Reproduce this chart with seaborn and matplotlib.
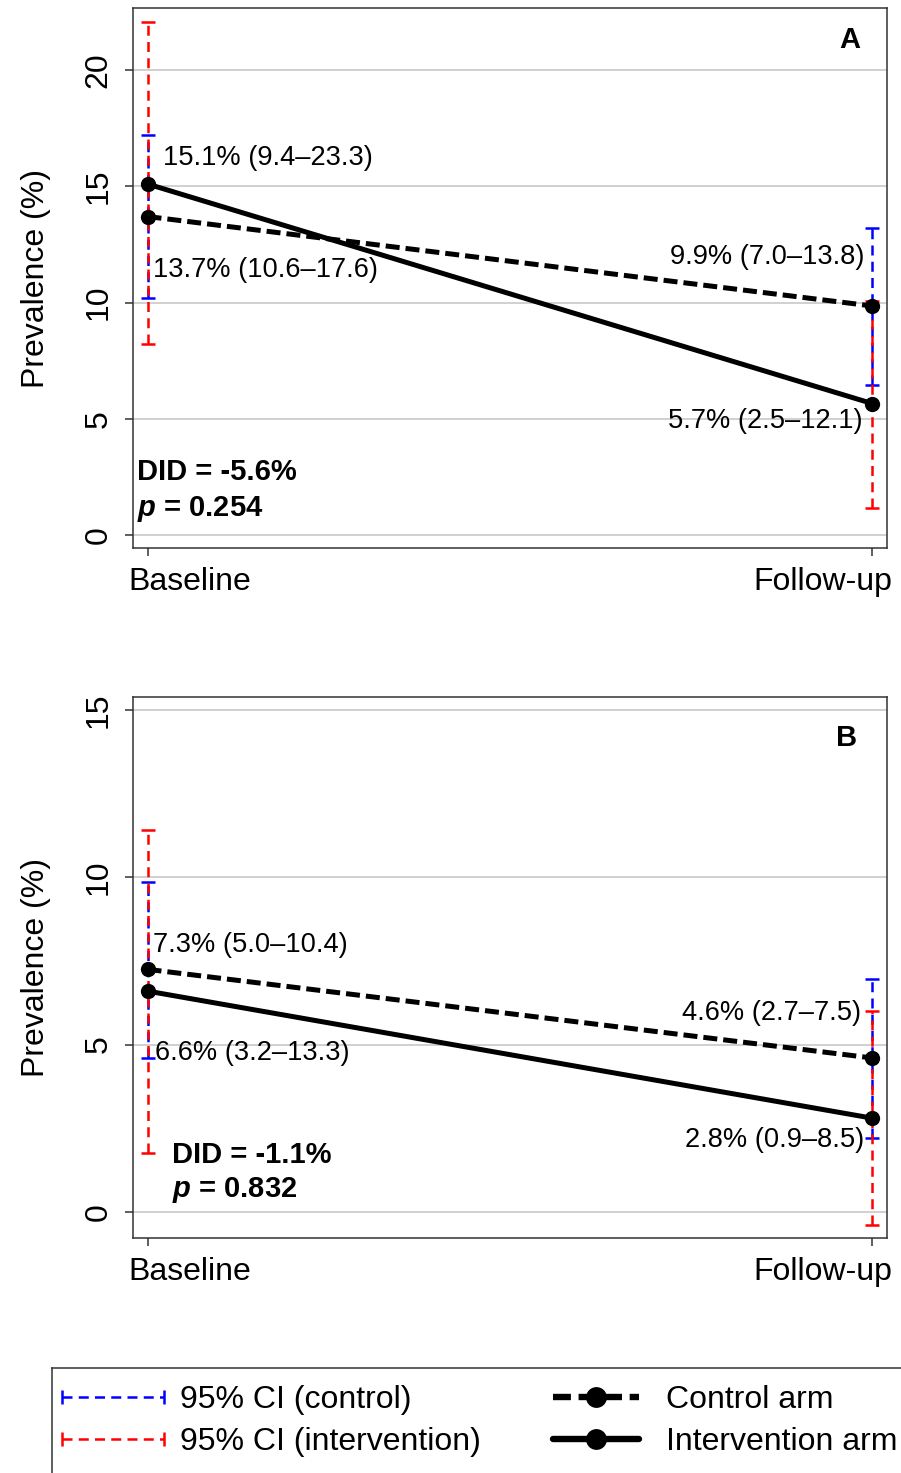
import numpy as np
import pandas as pd
import matplotlib
matplotlib.use("Agg")
import matplotlib.pyplot as plt
import matplotlib.transforms as mtransforms
import seaborn as sns
from matplotlib.lines import Line2D
from matplotlib.legend_handler import HandlerLine2D

# Data
times = ["Baseline", "Follow-up"]

# Panel A
a_control = [13.7, 9.85]
a_interv = [15.1, 5.65]
a_ci_control_lo = [10.2, 6.45]
a_ci_control_hi = [17.2, 13.2]
a_ci_interv_lo = [8.2, 1.15]
a_ci_interv_hi = [22.05, 10.05]
a_text_control = ["13.7% (10.6–17.6)", "9.9% (7.0–13.8)"]
a_text_interv = ["15.1% (9.4–23.3)", "5.7% (2.5–12.1)"]
a_did = "-5.6%"
a_p = "0.254"

# Panel B
b_control = [7.25, 4.6]
b_interv = [6.6, 2.8]
b_ci_control_lo = [4.6, 2.2]
b_ci_control_hi = [9.86, 6.95]
b_ci_interv_lo = [1.75, -0.4]
b_ci_interv_hi = [11.4, 6.0]
b_text_control = ["7.3% (5.0–10.4)", "4.6% (2.7–7.5)"]
b_text_interv = ["6.6% (3.2–13.3)", "2.8% (0.9–8.5)"]
b_did = "-1.1%"
b_p = "0.832"

sns.set_theme(style="white")
plt.rcParams["font.family"] = ["Liberation Sans", "DejaVu Sans"]
plt.rcParams["mathtext.fontset"] = "custom"
plt.rcParams["mathtext.bfit"] = "Liberation Sans:italic:bold"
plt.rcParams["mathtext.rm"] = "Liberation Sans:bold"
for k in ["text.color", "axes.labelcolor", "xtick.labelcolor", "ytick.labelcolor"]:
    plt.rcParams[k] = "black"

LW = 3.6
MS = 11
CTRL_LS = (0, (2.8, 1.2))
CI_LS = (0, (4, 2.5))
FS = 19.6


def draw_panel(ax, control, interv, c_lo, c_hi, i_lo, i_hi, t_ctrl, t_int,
               did, p, letter, ylim, yticks, lay):
    x = np.arange(len(times))
    df = pd.DataFrame({
        "t": np.concatenate([x, x]),
        "prev": control + interv,
        "arm": ["Control"] * len(x) + ["Intervention"] * len(x),
    })

    ax.grid(axis="y", color="#c8c8c8", lw=1.2)
    ax.set_axisbelow(True)

    # confidence intervals, blue first so red sits on top
    for lo, hi, mid, col in [(c_lo, c_hi, control, "blue"), (i_lo, i_hi, interv, "red")]:
        mid = np.array(mid)
        err = [mid - np.array(lo), np.array(hi) - mid]
        eb = ax.errorbar(x, mid, yerr=err, fmt="none", ecolor=col, elinewidth=1.8,
                         capsize=5, capthick=1.8, zorder=3)
        for lc in eb[2]:
            lc.set_linestyle(CI_LS)

    sns.lineplot(data=df[df.arm == "Control"], x="t", y="prev", ax=ax, color="black",
                 lw=LW, ls=CTRL_LS, marker="o", markersize=MS, markeredgewidth=0,
                 errorbar=None, zorder=4)
    sns.lineplot(data=df[df.arm == "Intervention"], x="t", y="prev", ax=ax, color="black",
                 lw=LW, marker="o", markersize=MS, markeredgewidth=0,
                 errorbar=None, zorder=4)

    # value labels
    for (xx, yy, ha), s in zip(lay["ctrl"], t_ctrl):
        ax.text(xx, yy, s, ha=ha, va="center", fontsize=FS, color="black", zorder=5)
    for (xx, yy, ha), s in zip(lay["int"], t_int):
        ax.text(xx, yy, s, ha=ha, va="center", fontsize=FS, color="black", zorder=5)

    dx, dy1, dy2 = lay["did"]
    ax.text(dx, dy1, "DID = " + did, ha="left", va="center", fontsize=21, fontweight="bold")
    ax.text(dx, dy2, r"$\mathbfit{p}$ = " + p, ha="left", va="center", fontsize=21,
            fontweight="bold")

    ax.text(lay["letter"][0], lay["letter"][1], letter, transform=ax.transAxes,
            ha="center", va="center", fontsize=21, fontweight="bold")

    ax.set_xlim(-0.02, 1.02)
    ax.set_ylim(*ylim)
    ax.set_yticks(yticks)
    ax.set_xticks(x, times)
    ax.set_xlabel("")
    ax.set_ylabel("Prevalence (%)", fontsize=23)
    ax.yaxis.set_label_coords(-0.109, 0.5)

    for sp in ax.spines.values():
        sp.set_color("#333333")
        sp.set_linewidth(1.1)
    ax.tick_params(axis="both", direction="out", length=6, width=1.1, color="#333333",
                   labelsize=23, pad=8, bottom=True, left=True)
    ax.tick_params(axis="y", labelrotation=90)
    for lab in ax.get_yticklabels():
        lab.set_va("center")

    fig = ax.figure
    for lab, ha, off in zip(ax.get_xticklabels(), ["left", "right"], [-19, 20]):
        lab.set_ha(ha)
        lab.set_transform(lab.get_transform() +
                          mtransforms.ScaledTranslation(off / 100, 0, fig.dpi_scale_trans))


fig = plt.figure(figsize=(9.01, 14.73), dpi=100)
W, H = 901, 1473
ax_a = fig.add_axes([133 / W, 1 - 548 / H, 754 / W, 540 / H])
ax_b = fig.add_axes([133 / W, 1 - 1238 / H, 754 / W, 541 / H])

lay_a = {
    "ctrl": [(0.007, 11.4, "left"), (0.989, 11.95, "right")],
    "int": [(0.022, 16.2, "left"), (0.986, 4.9, "right")],
    "did": (-0.014, 2.7, 1.12),
    "letter": (0.951, 0.941),
}
lay_b = {
    "ctrl": [(0.008, 7.98, "left"), (0.985, 5.95, "right")],
    "int": [(0.011, 4.75, "left"), (0.989, 2.15, "right")],
    "did": (0.034, 1.7, 0.66),
    "letter": (0.947, 0.924),
}

draw_panel(ax_a, a_control, a_interv, a_ci_control_lo, a_ci_control_hi,
           a_ci_interv_lo, a_ci_interv_hi, a_text_control, a_text_interv,
           a_did, a_p, "A", (-0.56, 22.67), [0, 5, 10, 15, 20], lay_a)
draw_panel(ax_b, b_control, b_interv, b_ci_control_lo, b_ci_control_hi,
           b_ci_interv_lo, b_ci_interv_hi, b_text_control, b_text_interv,
           b_did, b_p, "B", (-0.78, 15.39), [0, 5, 10, 15], lay_b)

# legend box, running off the right and bottom edges
ax_leg = fig.add_axes([52 / W, -0.05, 1.0, (H - 1368) / H + 0.05])
ax_leg.set_xticks([])
ax_leg.set_yticks([])
for sp in ax_leg.spines.values():
    sp.set_color("#333333")
    sp.set_linewidth(1.1)

ci_handles = [
    Line2D([], [], color="blue", lw=1.8, ls=CI_LS, marker="|", markersize=10, markeredgewidth=1.8),
    Line2D([], [], color="red", lw=1.8, ls=CI_LS, marker="|", markersize=10, markeredgewidth=1.8),
]
arm_handles = [
    Line2D([], [], color="black", lw=LW + 1, ls=CTRL_LS, marker="o", markersize=15, markeredgewidth=0),
    Line2D([], [], color="black", lw=LW + 1, marker="o", markersize=15, markeredgewidth=0),
]
leg1 = fig.legend(ci_handles, ["95% CI (control)", "95% CI (intervention)"],
                  loc="upper left", bbox_to_anchor=(62 / W, 1 - 1385 / H), frameon=False,
                  fontsize=23, handlelength=3.2, handletextpad=0.5, labelspacing=0.37,
                  borderpad=0, borderaxespad=0,
                  handler_map={h: HandlerLine2D(numpoints=2, marker_pad=0) for h in ci_handles})
leg2 = fig.legend(arm_handles, ["Control arm", "Intervention arm"],
                  loc="upper left", bbox_to_anchor=(553 / W, 1 - 1385 / H), frameon=False,
                  fontsize=23, handlelength=2.7, handletextpad=0.85, labelspacing=0.37,
                  borderpad=0, borderaxespad=0,
                  handler_map={h: HandlerLine2D(numpoints=1) for h in arm_handles})

fig.savefig("out.png", dpi=100)
